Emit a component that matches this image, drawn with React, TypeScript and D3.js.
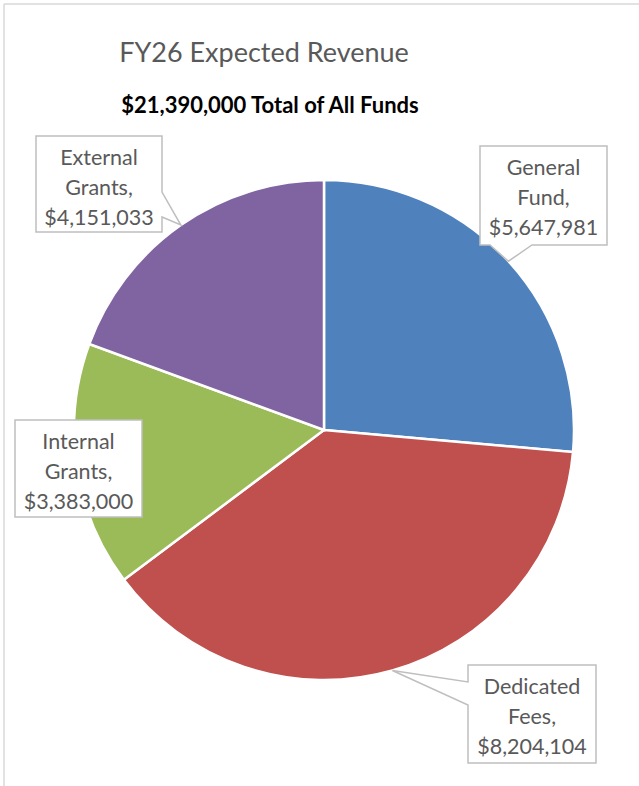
import { useMemo } from 'react';
import * as d3 from 'd3';

const categories = ['General Fund', 'Dedicated Fees', 'Internal Grants', 'External Grants'];
const values = [5647981, 8204104, 3383000, 4151033];
const labelLines = [
    ['General', 'Fund,', '$5,647,981'],
    ['Dedicated', 'Fees,', '$8,204,104'],
    ['Internal', 'Grants,', '$3,383,000'],
    ['External', 'Grants,', '$4,151,033'],
];
const colors = ['#4F81BD', '#C0504D', '#9BBB59', '#8064A2'];

const WIDTH = 639;
const HEIGHT = 786;
const cx = 324;
const cy = 430;
const radius = 250;
const FONT = 'Lato, "Open Sans", sans-serif';

// callout boxes: x, y, w, h, and which side the pointer leaves from
type Side = 'right' | 'bottom' | 'left' | 'none';
const boxes: { x: number; y: number; w: number; h: number; side: Side; a: number; b: number }[] = [
    { x: 480, y: 146, w: 127, h: 99, side: 'bottom', a: 490, b: 532 },
    { x: 468, y: 665, w: 128, h: 98, side: 'left', a: 682, b: 705 },
    { x: 15, y: 420, w: 127, h: 97, side: 'none', a: 0, b: 0 },
    { x: 36, y: 136, w: 126, h: 96, side: 'right', a: 192, b: 217 },
];

function calloutPath(bx: typeof boxes[number], tip: [number, number]) {
    const { x, y, w, h, side, a, b } = bx;
    const [tx, ty] = tip;
    const p = d3.path();
    p.moveTo(x, y);
    p.lineTo(x + w, y);
    if (side === 'right') {
        p.lineTo(x + w, a);
        p.lineTo(tx, ty);
        p.lineTo(x + w, b);
    }
    p.lineTo(x + w, y + h);
    if (side === 'bottom') {
        p.lineTo(b, y + h);
        p.lineTo(tx, ty);
        p.lineTo(a, y + h);
    }
    p.lineTo(x, y + h);
    if (side === 'left') {
        p.lineTo(x, b);
        p.lineTo(tx, ty);
        p.lineTo(x, a);
    }
    p.closePath();
    return p.toString();
}

export default function App() {
    const arcs = useMemo(() => d3.pie<number>().sort(null).value((d) => d)(values), []);
    const arcGen = d3.arc<d3.PieArcDatum<number>>().innerRadius(0).outerRadius(radius);
    const edgeGen = d3.arc<d3.PieArcDatum<number>>().innerRadius(radius).outerRadius(radius);

    return (
        <svg
            width={WIDTH}
            height={HEIGHT}
            style={{ position: 'absolute', left: 0, top: 0, background: 'white' }}
        >
            {/* frame, only top and left edges are visible */}
            <line x1={4} y1={4} x2={WIDTH} y2={4} stroke="#D9D9D9" strokeWidth={1.5} />
            <line x1={4} y1={4} x2={4} y2={HEIGHT} stroke="#D9D9D9" strokeWidth={1.5} />

            <text x={264} y={62} textAnchor="middle" fontFamily={FONT} fontSize={27} fill="#595959">
                FY26 Expected Revenue
            </text>
            <text x={270} y={113} textAnchor="middle" fontFamily={FONT} fontSize={22} fontWeight="bold" fill="#000">
                $21,390,000 Total of All Funds
            </text>

            <g transform={`translate(${cx},${cy})`}>
                {arcs.map((d, i) => (
                    <path key={categories[i]} d={arcGen(d) || ''} fill={colors[i]} stroke="#fff" strokeWidth={2.5} />
                ))}
            </g>

            {arcs.map((d, i) => {
                const c = edgeGen.centroid(d);
                const tip: [number, number] = [cx + c[0], cy + c[1]];
                const bx = boxes[i];
                return (
                    <g key={categories[i]}>
                        <path d={calloutPath(bx, tip)} fill="#fff" stroke="#BFBFBF" strokeWidth={1.5} />
                        {labelLines[i].map((line, j) => (
                            <text
                                key={j}
                                x={bx.x + bx.w / 2}
                                y={bx.y + 29 + j * 30}
                                textAnchor="middle"
                                fontFamily={FONT}
                                fontSize={21.5}
                                fill="#595959"
                            >
                                {line}
                            </text>
                        ))}
                    </g>
                );
            })}
        </svg>
    );
}
